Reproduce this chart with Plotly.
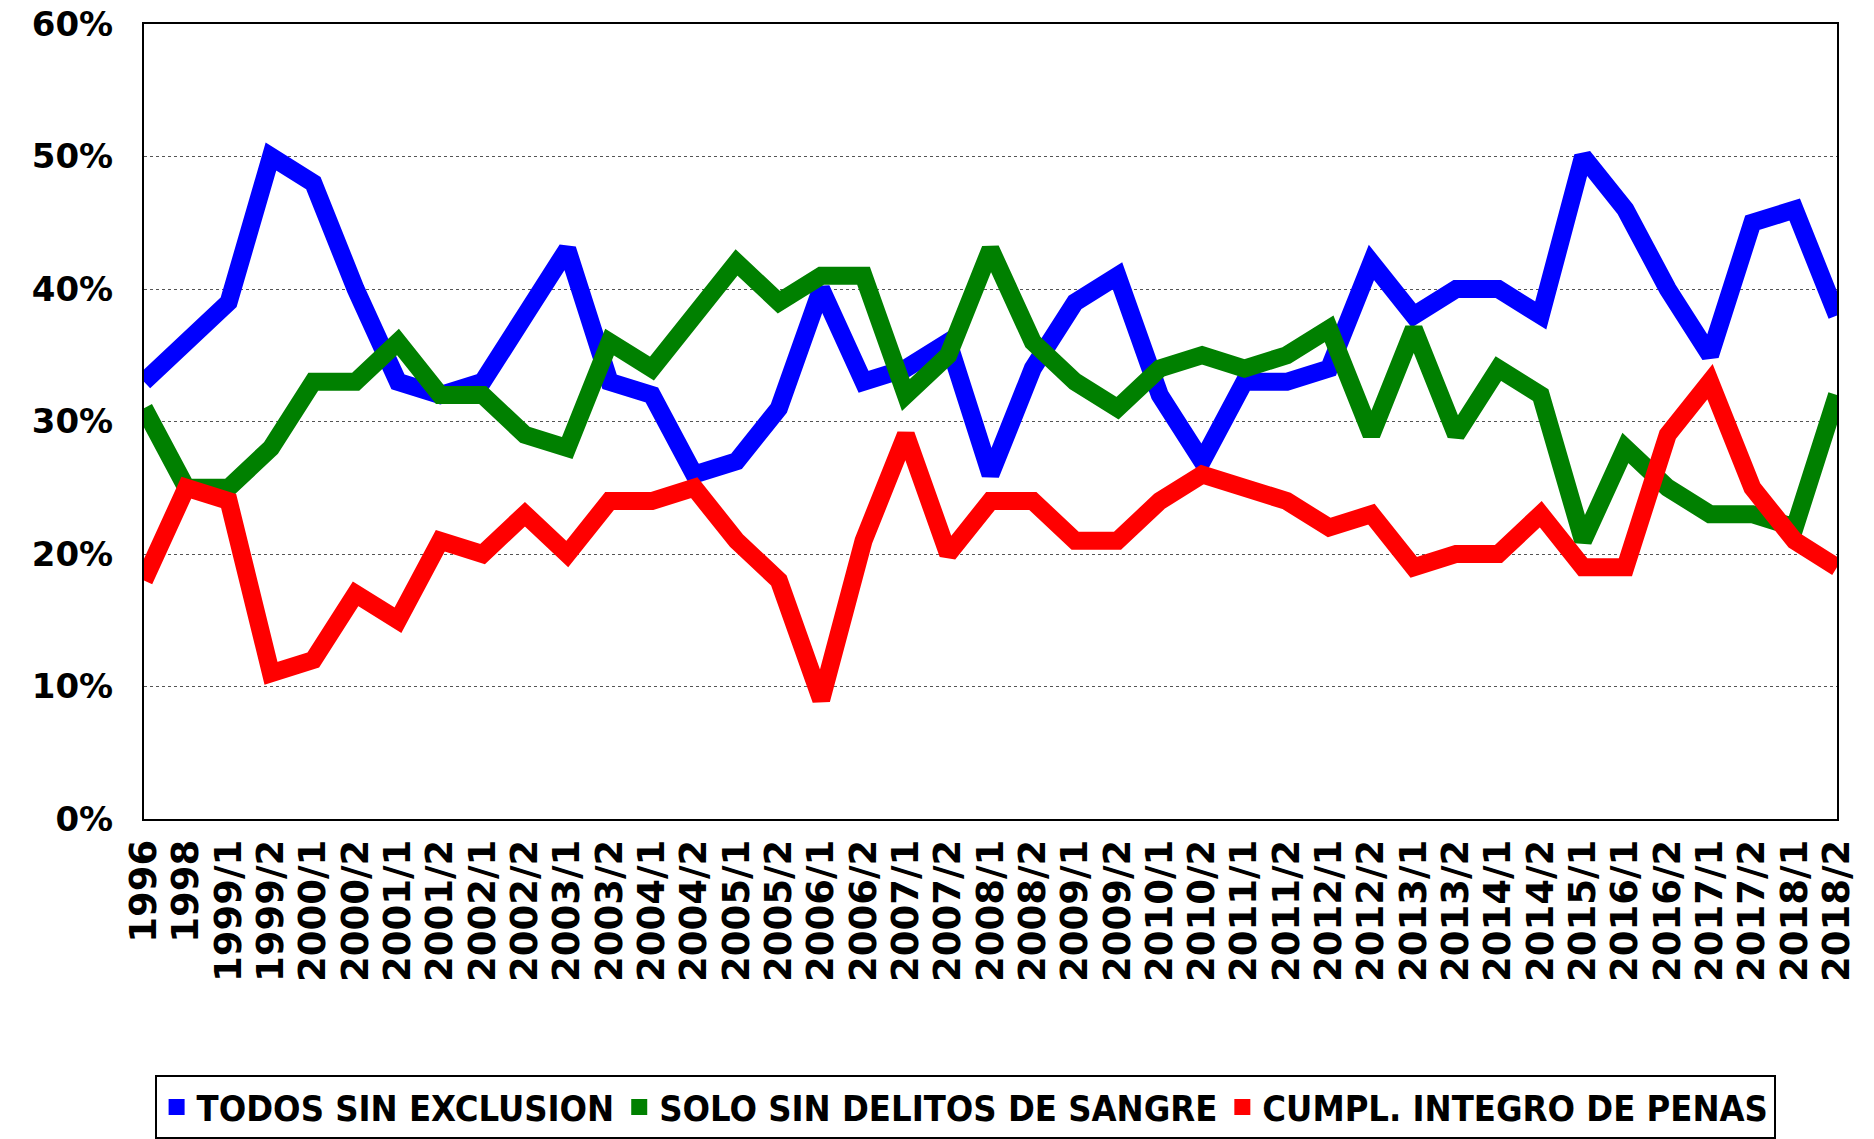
import plotly.graph_objects as go

# Periods (x axis)
periods = [
    "1996", "1998",
    "1999/1", "1999/2", "2000/1", "2000/2", "2001/1", "2001/2", "2002/1", "2002/2",
    "2003/1", "2003/2", "2004/1", "2004/2", "2005/1", "2005/2", "2006/1", "2006/2",
    "2007/1", "2007/2", "2008/1", "2008/2", "2009/1", "2009/2", "2010/1", "2010/2",
    "2011/1", "2011/2", "2012/1", "2012/2", "2013/1", "2013/2", "2014/1", "2014/2",
    "2015/1", "2016/1", "2016/2", "2017/1", "2017/2", "2018/1", "2018/2",
]

# Series values (%)
todos = [33, 36, 39, 50, 48, 40, 33, 32, 33, 38, 43, 33, 32, 26, 27, 31, 40, 33, 34, 36,
         26, 34, 39, 41, 32, 27, 33, 33, 34, 42, 38, 40, 40, 38, 50, 46, 40, 35, 45, 46, 38]
solo = [31, 25, 25, 28, 33, 33, 36, 32, 32, 29, 28, 36, 34, 38, 42, 39, 41, 41, 32, 35,
        43, 36, 33, 31, 34, 35, 34, 35, 37, 29, 37, 29, 34, 32, 21, 28, 25, 23, 23, 22, 32]
cumpl = [18, 25, 24, 11, 12, 17, 15, 21, 20, 23, 20, 24, 24, 25, 21, 18, 9, 21, 29, 20,
         24, 24, 21, 21, 24, 26, 25, 24, 22, 23, 19, 20, 20, 23, 19, 19, 29, 33, 25, 21, 19]

names = ["TODOS SIN EXCLUSION", "SOLO SIN DELITOS DE SANGRE", "CUMPL. INTEGRO DE PENAS"]
colors = ["#0000ff", "#008000", "#ff0000"]

fig = go.Figure()

for name, vals, col in zip(names, [todos, solo, cumpl], colors):
    fig.add_trace(go.Scatter(
        x=periods, y=[v / 100 for v in vals], mode="lines", name=name,
        line=dict(color=col, width=18), showlegend=False,
    ))

# square legend swatches
for name, col in zip(names, colors):
    fig.add_trace(go.Scatter(
        x=[None], y=[None], mode="markers", name=name,
        marker=dict(symbol="square", size=26, color=col),
    ))

xfont = dict(family="DejaVu Sans", size=37, color="black", weight="bold")
yfont = dict(family="DejaVu Sans", size=34, color="black", weight="bold")

# page body adds an 8px margin, so the figure is 8px smaller than the window
fig.update_layout(
    width=1866, height=1131,
    margin=dict(l=136, r=37, t=16, b=320),
    plot_bgcolor="white", paper_bgcolor="white",
    legend=dict(
        orientation="h", x=0.485, xanchor="center",
        yref="container", y=0.0, yanchor="bottom",
        bordercolor="black", borderwidth=2, bgcolor="white",
        font=dict(family="DejaVu Sans Condensed, DejaVu Sans", size=36, color="black", weight="bold"),
        itemwidth=30, tracegroupgap=0,
    ),
    xaxis=dict(
        type="category", range=[0, len(periods) - 1], tickangle=-90,
        tickmode="array", tickvals=periods, ticktext=periods,
        tickfont=xfont, showgrid=False, showline=True, linecolor="black",
        linewidth=2, mirror=True, ticks="", ticklabelstandoff=4, automargin=False,
    ),
    yaxis=dict(
        range=[0, 0.6], dtick=0.1, tickformat=".0%", tickfont=yfont,
        showgrid=True, gridcolor="#555555", gridwidth=1, griddash="dot",
        showline=True, linecolor="black", linewidth=2, mirror=True,
        ticks="", ticklabelstandoff=22, zeroline=False, automargin=False,
        ticklabeloverflow="allow",
    ),
)

fig.write_html("out.html")
